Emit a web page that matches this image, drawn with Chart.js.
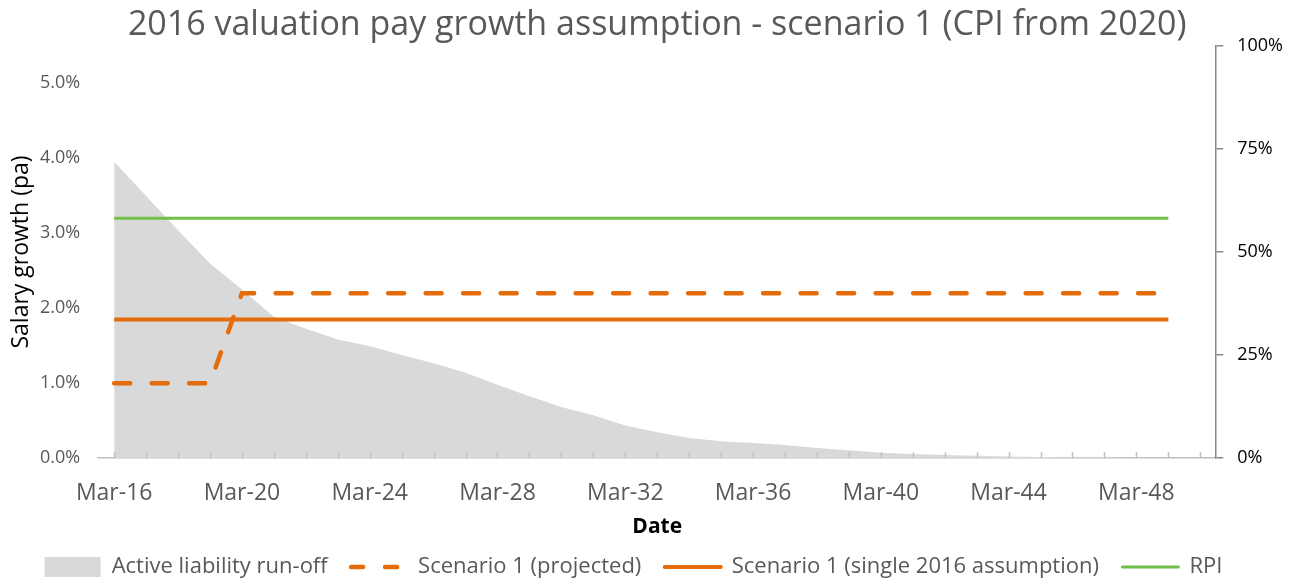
<!DOCTYPE html>
<html>
<head>
<meta charset="utf-8">
<script src="https://cdn.jsdelivr.net/npm/chart.js@4.4.1/dist/chart.umd.min.js"></script>
<style>
  html, body { margin: 0; padding: 0; background: #fff; }
</style>
</head>
<body>
<canvas id="chart" width="1296" height="579"></canvas>
<script>
// categories: one per year, Mar-16 .. Mar-50
const labels = [
  'Mar-16', 'Mar-17', 'Mar-18', 'Mar-19', 'Mar-20', 'Mar-21', 'Mar-22', 'Mar-23',
  'Mar-24', 'Mar-25', 'Mar-26', 'Mar-27', 'Mar-28', 'Mar-29', 'Mar-30', 'Mar-31',
  'Mar-32', 'Mar-33', 'Mar-34', 'Mar-35', 'Mar-36', 'Mar-37', 'Mar-38', 'Mar-39',
  'Mar-40', 'Mar-41', 'Mar-42', 'Mar-43', 'Mar-44', 'Mar-45', 'Mar-46', 'Mar-47',
  'Mar-48', 'Mar-49', 'Mar-50'
];

// active liability run-off (% of 2016, right axis)
const runoff = [
  71.9, 63.6, 55.3, 47.2, 40.9, 34.3, 31.4, 28.8, 27.2, 25.0, 23.0, 20.7,
  17.8, 15.0, 12.4, 10.4, 7.9, 6.3, 4.9, 4.1, 3.7, 3.2, 2.5, 1.9,
  1.3, 1.0, 0.8, 0.6, 0.4, 0.3, 0.2, 0.15, 0.1, 0.05, null
];

// salary growth series (% pa, left axis)
const projected = [
  1.0, 1.0, 1.0, 1.0, 2.2, 2.2, 2.2, 2.2, 2.2, 2.2, 2.2, 2.2,
  2.2, 2.2, 2.2, 2.2, 2.2, 2.2, 2.2, 2.2, 2.2, 2.2, 2.2, 2.2,
  2.2, 2.2, 2.2, 2.2, 2.2, 2.2, 2.2, 2.2, 2.2, 2.2, null
];
const single2016 = [
  1.85, 1.85, 1.85, 1.85, 1.85, 1.85, 1.85, 1.85, 1.85, 1.85, 1.85, 1.85,
  1.85, 1.85, 1.85, 1.85, 1.85, 1.85, 1.85, 1.85, 1.85, 1.85, 1.85, 1.85,
  1.85, 1.85, 1.85, 1.85, 1.85, 1.85, 1.85, 1.85, 1.85, 1.85, null
];
const rpi = [
  3.2, 3.2, 3.2, 3.2, 3.2, 3.2, 3.2, 3.2, 3.2, 3.2, 3.2, 3.2,
  3.2, 3.2, 3.2, 3.2, 3.2, 3.2, 3.2, 3.2, 3.2, 3.2, 3.2, 3.2,
  3.2, 3.2, 3.2, 3.2, 3.2, 3.2, 3.2, 3.2, 3.2, 3.2, null
];

const ORANGE = '#E46C0A';
const GREEN = '#70BE47';
const FONT = '"Open Sans", "Liberation Sans", sans-serif';

// small inside tick marks on the date axis, like the original
const innerTicks = {
  id: 'innerTicks',
  afterDatasetsDraw(chart) {
    const x = chart.scales.x;
    const bottom = chart.chartArea.bottom;
    const ctx = chart.ctx;
    ctx.save();
    ctx.strokeStyle = '#BFBFBF';
    ctx.lineWidth = 1.5;
    ctx.beginPath();
    for (let i = 0; i < labels.length; i++) {
      const px = Math.round(x.getPixelForTick(i)) + 0.5;
      ctx.moveTo(px, bottom - 6);
      ctx.lineTo(px, bottom);
    }
    ctx.stroke();
    ctx.restore();
  }
};

new Chart(document.getElementById('chart').getContext('2d'), {
  type: 'line',
  data: {
    labels: labels,
    datasets: [
      {
        label: 'Active liability run-off',
        data: runoff,
        yAxisID: 'y1',
        fill: 'origin',
        backgroundColor: '#D9D9D9',
        borderWidth: 0,
        pointRadius: 0,
        order: 1
      },
      {
        label: 'Scenario 1 (projected)',
        data: projected,
        yAxisID: 'y',
        borderColor: ORANGE,
        borderWidth: 4.5,
        borderDash: [16, 21.5],
        borderCapStyle: 'round',
        pointRadius: 0,
        fill: false,
        order: 0
      },
      {
        label: 'Scenario 1 (single 2016 assumption)',
        data: single2016,
        yAxisID: 'y',
        borderColor: ORANGE,
        borderWidth: 4,
        pointRadius: 0,
        fill: false,
        order: 0
      },
      {
        label: 'RPI',
        data: rpi,
        yAxisID: 'y',
        borderColor: GREEN,
        borderWidth: 3,
        pointRadius: 0,
        fill: false,
        order: 0
      }
    ]
  },
  options: {
    responsive: false,
    animation: false,
    layout: { padding: { left: 10, right: -1, top: 0, bottom: -9 } },
    plugins: {
      title: {
        display: true,
        text: '2016 valuation pay growth assumption - scenario 1 (CPI from 2020)',
        color: '#595959',
        fullSize: false,
        font: { family: FONT, size: 34, weight: 'normal' },
        padding: { top: 5, bottom: 0 }
      },
      legend: {
        position: 'bottom',
        labels: {
          usePointStyle: true,
          pointStyleWidth: 56,
          boxHeight: 20,
          padding: 12,
          color: '#595959',
          font: { family: FONT, size: 22 },
          generateLabels(chart) {
            const n = chart.data.datasets.length;
            return chart.data.datasets.map((ds, i) => ({
              // trailing spaces: wider gaps between items, and a legend that sits left of centre
              text: i < n - 1 ? ds.label + '  ' : ds.label + '       ',
              datasetIndex: i,
              pointStyle: i === 0 ? 'rect' : 'line',
              fillStyle: i === 0 ? ds.backgroundColor : ds.borderColor,
              strokeStyle: i === 0 ? ds.backgroundColor : ds.borderColor,
              lineWidth: i === 0 ? 0 : ds.borderWidth,
              lineDash: i === 1 ? [12, 22] : [],
              lineCap: 'round',
              fontColor: '#595959',
              hidden: false
            }));
          }
        }
      },
      tooltip: { enabled: false }
    },
    scales: {
      x: {
        type: 'category',
        offset: true,
        grid: { display: false },
        border: { color: '#BFBFBF', width: 1.5 },
        ticks: {
          autoSkip: false,
          maxRotation: 0,
          padding: 13,
          color: '#595959',
          font: { family: FONT, size: 23 },
          callback: (v, i) => (i % 4 === 0 ? labels[i] : '')
        },
        title: {
          display: true,
          text: 'Date',
          color: '#000',
          font: { family: FONT, size: 21, weight: 'bold' },
          padding: { top: -5, bottom: 4 }
        }
      },
      y: {
        position: 'left',
        min: 0,
        max: 5.5,
        grid: { display: false, drawTicks: false },
        border: { display: false },
        afterBuildTicks: (scale) => {
          scale.ticks = scale.ticks.filter(t => t.value <= 5.0001);
        },
        ticks: {
          stepSize: 1,
          padding: 18,
          color: '#595959',
          font: { family: FONT, size: 18 },
          callback: (v) => v.toFixed(1) + '%'
        },
        title: {
          display: true,
          text: 'Salary growth (pa)',
          color: '#000',
          font: { family: FONT, size: 23, lineHeight: 1 },
          padding: { top: 0, bottom: -11 }
        }
      },
      y1: {
        position: 'right',
        min: 0,
        max: 100,
        grid: { drawOnChartArea: false, tickLength: 7, color: '#868686', lineWidth: 1.5 },
        border: { color: '#868686', width: 1.5 },
        ticks: {
          stepSize: 25,
          padding: 14,
          color: '#000',
          font: { family: FONT, size: 18 },
          callback: (v) => v + '%'
        }
      }
    }
  },
  plugins: [innerTicks]
});
</script>
</body>
</html>
